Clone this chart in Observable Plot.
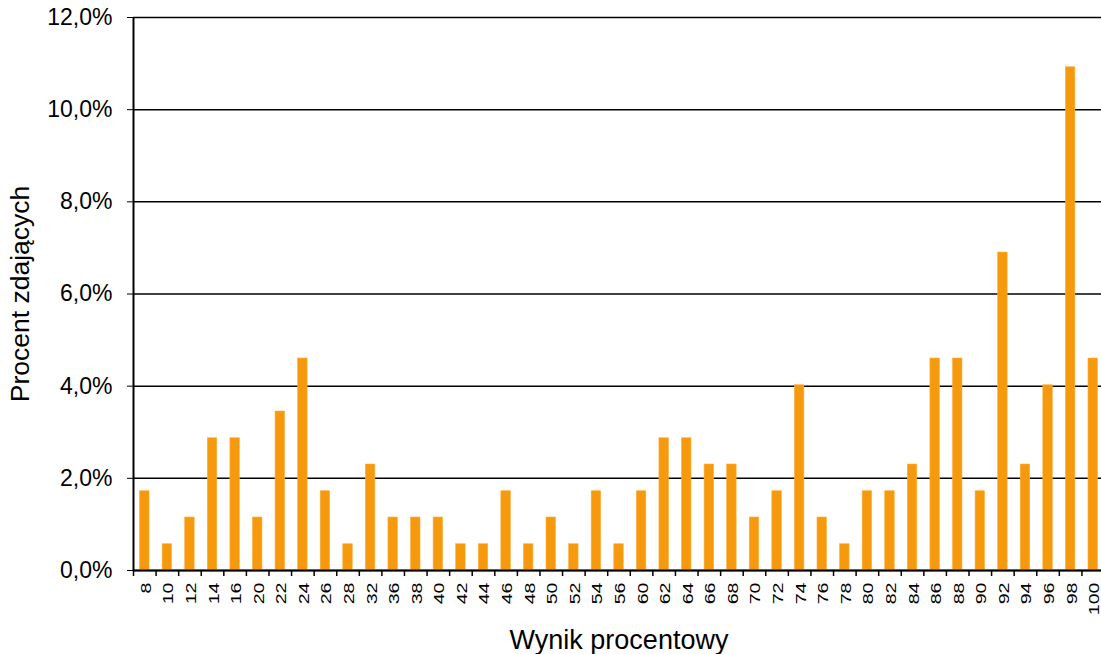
<!DOCTYPE html>
<html>
<head>
<meta charset="utf-8">
<script src="https://cdn.jsdelivr.net/npm/d3@7"></script>
<script src="https://cdn.jsdelivr.net/npm/@observablehq/plot@0.6"></script>
<style>
  html, body { margin: 0; padding: 0; background: #fff; overflow: hidden; }
  #chart { width: 1101px; height: 654px; overflow: hidden; }
</style>
</head>
<body>
<div id="chart"></div>
<script>
// Scores (Wynik procentowy) shown on the x axis
const scores = [8,10,12,14,16,20,22,24,26,28,32,36,38,40,42,44,46,48,50,52,54,56,60,62,64,66,68,70,72,74,76,78,80,82,84,86,88,90,92,94,96,98,100];
// Percent of passing students (Procent zdających)
const percents = [1.72,0.57,1.15,2.87,2.87,1.15,3.45,4.60,1.72,0.57,2.30,1.15,1.15,1.15,0.57,0.57,1.72,0.57,1.15,0.57,1.72,0.57,1.72,2.87,2.87,2.30,2.30,1.15,1.72,4.02,1.15,0.57,1.72,1.72,2.30,4.60,4.60,1.72,6.90,2.30,4.02,10.92,4.60];
// Y axis ticks
const yTicks = [0, 2, 4, 6, 8, 10, 12];

const data = scores.map((s, i) => ({score: String(s), pct: percents[i]}));
const cats = scores.map(String);

const width = 1101, height = 654;
const marginLeft = 133, marginRight = -3, marginTop = 17, marginBottom = 84;
const step = (width - marginLeft - marginRight) / cats.length;
const font = "'Liberation Sans', Arial, sans-serif";

const chart = Plot.plot({
  width, height, marginLeft, marginRight, marginTop, marginBottom,
  style: {fontFamily: font, background: "#fff", color: "#000", overflow: "hidden"},
  x: {domain: cats, paddingInner: 0.58, paddingOuter: 0.29, round: false, label: null},
  y: {domain: [0, 12], label: null},
  marks: [
    Plot.ruleY(yTicks, {stroke: "#000", strokeWidth: 1.5}),
    Plot.barY(data, {x: "score", y: "pct", fill: "#f7990c", stroke: "#fbb040", strokeWidth: 0.6}),
    Plot.ruleX([cats[0]], {y1: 0, y2: 12, dx: -step / 2, stroke: "#000", strokeWidth: 2}),
    Plot.ruleY([0], {stroke: "#000", strokeWidth: 2}),
    Plot.ruleX(cats, {y1: 0, y2: 0, insetBottom: -6, dx: -step / 2, stroke: "#000", strokeWidth: 1.5}),
    Plot.axisY({ticks: yTicks, tickSize: 6, tickPadding: 15, fontSize: 23, label: null,
      tickFormat: d => d.toFixed(1).replace(".", ",") + "%"}),
    Plot.axisX({tickSize: 0, tickPadding: 12, tickRotate: -90, fontSize: 14, label: null, dx: 1.5}),
    Plot.text(["Procent zdających"], {frameAnchor: "left", dx: -112.5, rotate: -90, textAnchor: "middle", lineAnchor: "middle", fontSize: 26.5, fill: "#000"}),
    Plot.text(["Wynik procentowy"], {frameAnchor: "bottom", dy: 70, textAnchor: "middle", lineAnchor: "middle", fontSize: 27, fill: "#000"})
  ]
});
// stretch rotated x tick labels along their reading direction, like the reference
chart.querySelectorAll('g[aria-label="x-axis tick label"] text').forEach(t => {
  const tr = t.getAttribute("transform");
  if (tr) t.setAttribute("transform", tr + " scale(1.4,1)");
});
document.getElementById("chart").appendChild(chart);
</script>
</body>
</html>
